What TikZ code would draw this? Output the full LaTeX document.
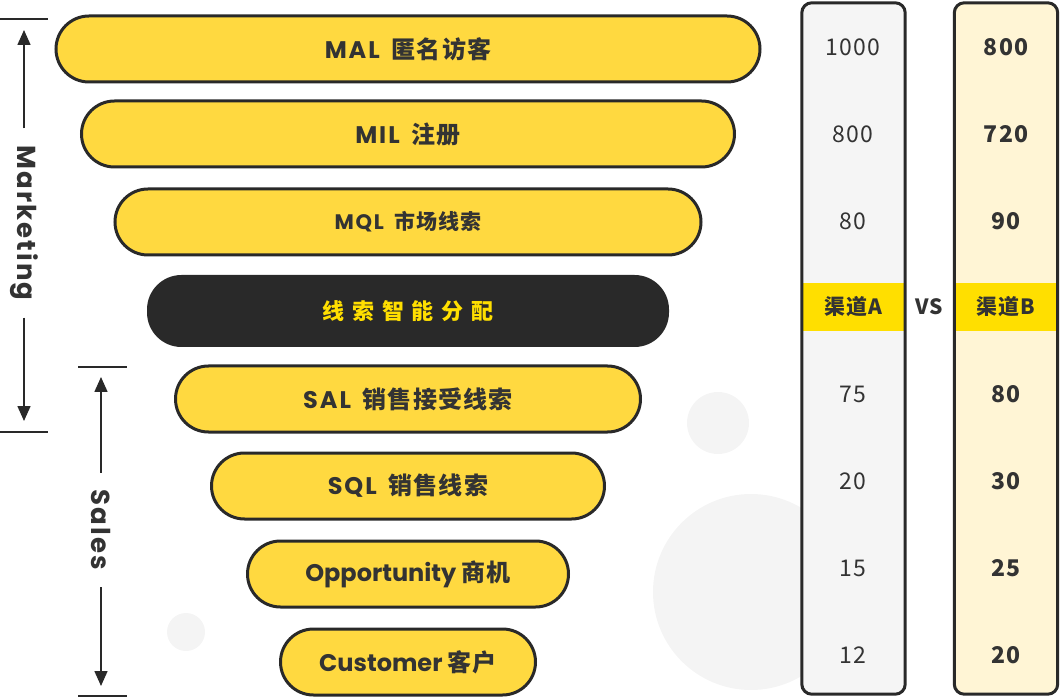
\documentclass[tikz,border=0pt]{standalone}
\usepackage{fontspec}
\setmainfont{Poppins}
\newfontfamily\cjk[LetterSpace=5]{Noto Sans CJK SC}
\newfontfamily\cjkwide[LetterSpace=35]{Noto Sans CJK SC}
\newfontfamily\latin[LetterSpace=8]{Poppins}
\usetikzlibrary{positioning, arrows.meta}

\definecolor{funnelyellow}{HTML}{FFD940}
\definecolor{bandyellow}{HTML}{FFDF00}
\definecolor{inkdark}{HTML}{292929}
\definecolor{inktext}{HTML}{333333}
\definecolor{colgrey}{HTML}{F5F5F5}
\definecolor{colcream}{HTML}{FFF5D5}
\definecolor{bubble}{HTML}{F4F4F4}

\begin{document}
\begin{tikzpicture}[x=1pt, y=-1pt,
            funnel/.style={rectangle, rounded corners=33pt, draw=inkdark, line width=3pt, fill=funnelyellow, minimum height=66pt, inner sep=0pt, text=inktext, font=\bfseries\fontsize{24}{28}\selectfont},
            column/.style={rectangle, rounded corners=10pt, minimum width=103pt, minimum height=691pt, inner sep=0pt},
            band/.style={rectangle, fill=bandyellow, minimum width=101pt, minimum height=48pt, inner sep=0pt, text=inktext, font=\cjk\bfseries\fontsize{21}{24}\selectfont},
            numa/.style={text=inktext, font=\cjk\fontsize{23}{26}\selectfont},
            numb/.style={text=inktext, font=\cjk\bfseries\fontsize{23}{26}\selectfont},
            sidelabel/.style={rotate=-90, text=inktext, inner xsep=17pt, inner ysep=0pt, font=\latin\bfseries\fontsize{26}{30}\selectfont},
            arrowline/.style={draw=inkdark, line width=1.6pt, -{Triangle[width=13pt, length=15pt]}},
            tick/.style={draw=inkdark, line width=1.6pt},
            ]
            \useasboundingbox (0,0) rectangle (1060,700);

            %Background bubbles
            \fill[bubble] (718,423) circle (31);
            \fill[bubble] (751,592) circle (98);
            \fill[bubble] (186,632) circle (19);

            %Funnel
            \node[funnel, minimum width=704pt] (mal)    at (408,49)  {\latin MAL\hspace{0.2em} {\cjk 匿名访客}};
            \node[funnel, minimum width=653pt] (mil)    at (408,134) {\latin MIL\hspace{0.2em} {\cjk 注册}};
            \node[funnel, minimum width=586pt, font=\bfseries\fontsize{21}{25}\selectfont] (mql) at (408,222) {\latin MQL\hspace{0.2em} {\cjk 市场线索}};
            \node[funnel, minimum width=519pt, fill=inkdark, text=bandyellow, minimum height=69pt, font=\bfseries\fontsize{22}{26}\selectfont] (assign) at (408,311) {\cjkwide 线索智能分配};
            \node[funnel, minimum width=465pt] (sal)    at (408,399) {\latin SAL\hspace{0.2em} {\cjk 销售接受线索}};
            \node[funnel, minimum width=393pt] (sql)    at (408,486) {\latin SQL\hspace{0.2em} {\cjk 销售线索}};
            \node[funnel, minimum width=321pt] (opp)    at (408,574) {Opportunity {\cjk 商机}};
            \node[funnel, minimum width=255pt] (cust)   at (408,662) {Customer {\cjk 客户}};

            %Columns
            \node[column, fill=colgrey]  (cola) at (853.5,348.5) {};
            \node[column, fill=colcream] (colb) at (1006,348.5) {};
            \node[band] (banda) at (cola.center |- 0,307) {渠道A};
            \node[band] (bandb) at (colb.center |- 0,307) {渠道B};
            \draw[inkdark, line width=3pt, rounded corners=10pt] (cola.north west) rectangle (cola.south east);
            \draw[inkdark, line width=3pt, rounded corners=10pt] (colb.north west) rectangle (colb.south east);
            \node[text=inktext, font=\cjk\bfseries\fontsize{21}{24}\selectfont] (vs) at (929,307) {VS};

            \foreach \y/\a/\b [count=\i] in {47/1000/800, 134/800/720, 221/80/90, 394/75/80, 481/20/30, 568/15/25, 655/12/20} {
              \node[numa] (a-\i) at (853,\y) {\a};
              \node[numb] (b-\i) at (1006,\y) {\b};
            }

            %Side labels
            \coordinate (mkttip) at (24,30);
            \coordinate (mktend) at (24,421);
            \coordinate (saltip) at (101,377);
            \coordinate (salend) at (101,686);
            \node[sidelabel] (mkt)   at (24,223)  {Marketing};
            \node[sidelabel] (sales) at (101,530) {Sales};
            \draw[arrowline] (mkt.west) -- (mkttip);
            \draw[arrowline] (mkt.east) -- (mktend);
            \draw[arrowline] (sales.west) -- (saltip);
            \draw[arrowline] (sales.east) -- (salend);
            \draw[tick] (0,19) -- (48,19);
            \draw[tick] (0,432) -- (48,432);
            \draw[tick] (78,367) -- (127,367);
            \draw[tick] (78,696) -- (127,696);
          \end{tikzpicture}
\end{document}
